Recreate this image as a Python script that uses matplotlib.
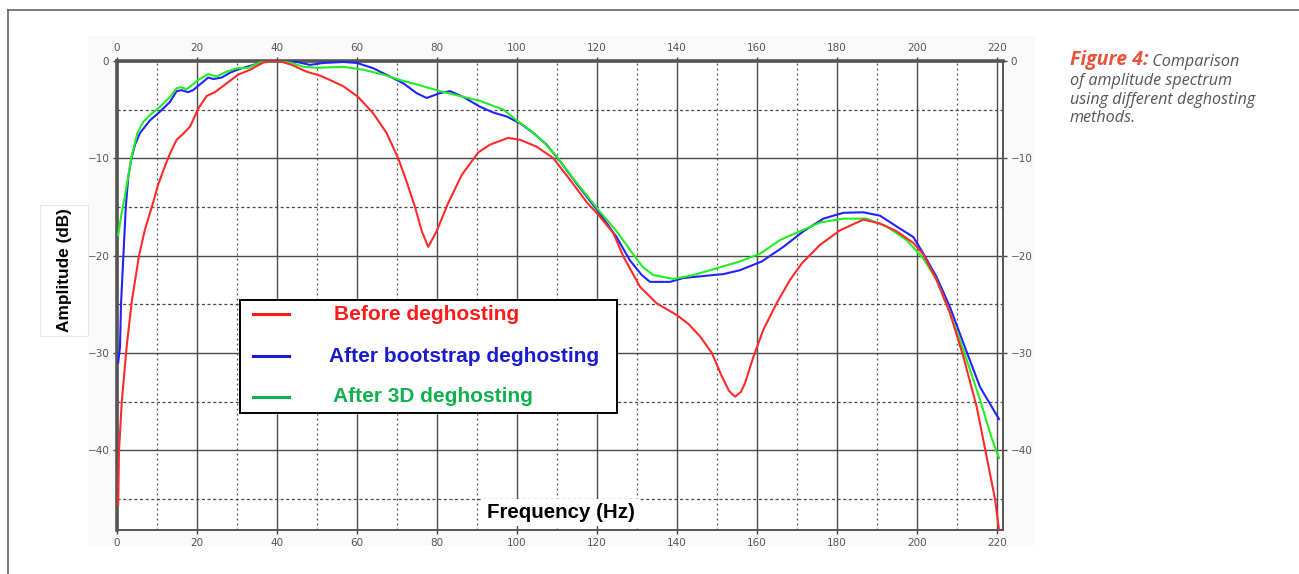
import matplotlib
matplotlib.use('Agg')
import matplotlib.pyplot as plt
from matplotlib.patches import Rectangle
from matplotlib.lines import Line2D
import numpy as np

# values (Hz, dB)
freq_before = [0.3, 0.5, 1.2, 2.4, 3.7, 5.5, 7, 8.7, 10.3, 11.8, 13.25, 14.9, 16.5, 18.25, 20.3, 22.4,
               24.5, 27.4, 30.3, 33.25, 36.6, 39, 41, 43.7, 47.4, 50.75, 53.5, 56.6, 60.3, 64.1, 67.4,
               70.3, 72.4, 74.5, 76.2, 77.8, 79.9, 82.8, 86.2, 90.3, 93.25, 97.8, 100.75, 104.9, 109.1,
               113.25, 117.4, 120.75, 124.1, 126.6, 130.75, 134.9, 139.9, 142.8, 145.75, 148.7, 151.2,
               153, 154.5, 156, 157, 159.1, 161.6, 164.9, 168.25, 171.2, 175.75, 180.75, 186.6, 190.75,
               194.9, 199.1, 201.6, 204.9, 208.25, 211.6, 214.9, 216.6, 217.8, 219.5, 220.5]
amp_before = [-45.6, -40, -35, -29.4, -24.7, -20, -17.3, -15, -12.7, -11, -9.5, -8.1, -7.5, -6.75, -4.9, -3.6,
              -3.2, -2.3, -1.4, -0.9, -0.15, 0, -0.05, -0.4, -1.1, -1.5, -2.0, -2.6, -3.7, -5.4, -7.4,
              -10, -12.4, -15, -17.5, -19.1, -17.5, -14.6, -11.7, -9.4, -8.6, -7.9, -8.1, -8.8, -10,
              -12.2, -14.5, -16.0, -17.7, -20.1, -23.2, -24.9, -26.1, -27, -28.3, -30, -32.4,
              -33.9, -34.5, -34.0, -33.1, -30.4, -27.6, -24.9, -22.5, -20.8, -18.9, -17.4, -16.3, -16.7,
              -17.5, -18.7, -19.9, -22.5, -25.9, -30.4, -35.5, -39.0, -41.5, -45, -48.2]

freq_boot = [0.3, 0.75, 1.0, 1.6, 2.2, 2.8, 3.5, 4.5, 5.75, 8.25, 10.75, 13.25, 14.9, 16.1, 17.8, 19,
             20.75, 22.8, 24.1, 26.2, 28.25, 30.75, 34.1, 37.4, 41.6, 45, 48.25, 51.6, 56.6, 60, 64.1,
             68.25, 71.6, 74.9, 77.4, 80.75, 83.25, 86.6, 90.75, 94.1, 97.4, 100.75, 104.1, 107.4,
             110.75, 114.9, 120.75, 124.9, 128.25, 131.2, 133.25, 138.25, 141.6, 146.6, 151.6, 155.75,
             161.2, 166.6, 171.6, 176.6, 181.6, 186.6, 190.75, 194.9, 199.1, 201.6, 204.9, 208.25,
             211.6, 215.75, 220.5]
amp_boot = [-31, -29.4, -25, -20, -15, -12, -10.2, -8.6, -7.4, -6.1, -5.2, -4.2, -3.1, -3.0, -3.2, -3.0,
            -2.4, -1.7, -1.85, -1.7, -1.2, -0.8, -0.4, 0, 0, -0.1, -0.4, -0.2, -0.1, -0.2, -0.75,
            -1.6, -2.3, -3.3, -3.8, -3.3, -3.1, -3.7, -4.7, -5.3, -5.7, -6.4, -7.4, -8.6,
            -10.3, -12.6, -15.7, -18.1, -20.5, -22, -22.7, -22.7, -22.3, -22.1, -21.9, -21.5,
            -20.6, -19.1, -17.5, -16.2, -15.6, -15.55, -15.9, -17.0, -18.1, -19.8, -22.2, -25.3,
            -29.0, -33.5, -36.8]

freq_3d = [0.3, 1, 2, 3.7, 5.1, 6.5, 8.25, 10.75, 13.25, 14.9, 16, 17.4, 20.3, 22.8, 24.9, 27.4, 29.9,
           32.75, 35.75, 40, 43.7, 46.6, 50, 56.6, 61.6, 66.6, 70.75, 75.75, 80.75, 85.75, 90.75, 96.6,
           99.9, 103.25, 106.6, 109.9, 114.1, 120.75, 124.9, 129.1, 131.5, 134.1, 139.1, 144.1, 149.1,
           155.75, 160.75, 165.75, 170.75, 175.75, 181.6, 187.4, 192.4, 197.4, 201.6, 204.9, 208.25,
           211.6, 215.75, 218.7, 220.5]
amp_3d = [-17.9, -16, -13.8, -9.7, -7.4, -6.3, -5.55, -4.7, -3.7, -2.8, -2.7, -2.9, -1.95, -1.35, -1.6, -1.1, -0.75,
          -0.7, -0.15, 0, -0.2, -0.6, -0.7, -0.6, -0.9, -1.4, -1.95, -2.5, -3.1, -3.6, -4.1, -5.0,
          -6.1, -7.1, -8.3, -9.8, -12.1, -15.5, -17.5, -19.9, -21.2, -22, -22.4, -22, -21.4,
          -20.6, -19.8, -18.4, -17.5, -16.6, -16.2, -16.2, -17, -18.4, -20.3, -22.5, -25.9,
          -29.7, -34.8, -38.8, -40.8]

labels = ['Before deghosting', 'After bootstrap deghosting', 'After 3D deghosting']
line_colors = ['#ff2a2a', '#2222ff', '#22ee22']
legend_colors = ['#ff1a1a', '#1a1ad0', '#10b050']

W, H = 1299, 574
fig = plt.figure(figsize=(W / 100, H / 100), dpi=100)

# page frame and faint image background
fig.add_artist(Line2D([8 / W, 8 / W], [0, 1 - 10 / H], color='#666666', lw=1.2))
fig.add_artist(Line2D([8 / W, 1], [1 - 10 / H, 1 - 10 / H], color='#666666', lw=1.2))
fig.add_artist(Rectangle((88 / W, 1 - 546 / H), (1035 - 88) / W, (546 - 36) / H,
                         facecolor='#fafafa', edgecolor='none', zorder=0))
fig.add_artist(Rectangle((40 / W, 1 - 336 / H), 48 / W, 131 / H,
                         facecolor='white', edgecolor='#e6e6e6', lw=0.8, zorder=0.5))

ax = fig.add_axes([117 / W, 1 - 530 / H, 886 / W, 469 / H])
ax.set_facecolor('white')

ax.plot(freq_boot, amp_boot, color=line_colors[1], lw=1.5, zorder=3)
ax.plot(freq_3d, amp_3d, color=line_colors[2], lw=1.5, zorder=3)
ax.plot(freq_before, amp_before, color=line_colors[0], lw=1.5, zorder=3)

ax.set_xlim(0, 221.5)
ax.set_ylim(-48.2, 0)
ax.set_xticks(np.arange(0, 221, 20))
ax.set_yticks(np.arange(-40, 1, 10))
ax.set_xticks(np.arange(10, 220, 20), minor=True)
ax.set_yticks(np.arange(-45, 0, 10), minor=True)
ax.grid(which='major', color='#4a4a4a', lw=1.0, ls='-')
ax.grid(which='minor', axis='y', color='#4a4a4a', lw=0.9, ls=(0, (2.5, 2)))
ax.grid(which='minor', axis='x', color='#4a4a4a', lw=0.9, ls=(0, (1.5, 2.5)))
ax.set_axisbelow(True)

ax.tick_params(which='major', top=True, right=True, labeltop=True, labelright=True,
               direction='out', length=3, width=1, color='#444444', pad=2.5,
               labelsize=7.5, labelcolor='#555555')
ax.tick_params(which='minor', length=0)

for side in ['top', 'left']:
    ax.spines[side].set_linewidth(2.6)
    ax.spines[side].set_color('#555555')
for side in ['bottom', 'right']:
    ax.spines[side].set_linewidth(1.4)
    ax.spines[side].set_color('#555555')

# legend box drawn by hand
ax.add_patch(Rectangle(((240 - 117) / 886, (530 - 413) / 469), 377 / 886, 113 / 469,
                       transform=ax.transAxes, facecolor='white', edgecolor='black',
                       lw=1.4, zorder=5))
row_y = [314, 356, 397]
text_x = [334, 329, 333]
for lab, c, ry, tx in zip(labels, legend_colors, row_y, text_x):
    yy = (530 - ry) / 469
    ax.add_line(Line2D([(253 - 117) / 886, (289 - 117) / 886], [yy, yy], color=c, lw=2.2,
                       transform=ax.transAxes, zorder=6))
    ax.text((tx - 117) / 886, yy, lab, transform=ax.transAxes, color=c, fontsize=15,
            fontweight='bold', family='Liberation Sans', va='center', ha='left', zorder=6)

ax.text(111, -46.4, 'Frequency (Hz)', fontsize=14.8, fontweight='bold', family='Liberation Sans',
        ha='center', va='center', zorder=4,
        bbox=dict(facecolor='white', edgecolor='none', pad=3))
fig.text(65 / W, 1 - 270 / H, 'Amplitude (dB)', rotation=90, fontsize=12.4, fontweight='bold',
         family='Liberation Sans', ha='center', va='center')

# caption
t1 = fig.text(1070 / W, 1 - 65.5 / H, 'Figure 4:', fontsize=14, fontweight='bold', style='italic',
              family='Open Sans', color='#e8553a', va='baseline', ha='left')
t2 = fig.text(0, 1 - 65.5 / H, ' Comparison', fontsize=11.6, style='italic', family='Open Sans',
              color='#555555', va='baseline', ha='left')
cap_lines = ['of amplitude spectrum', 'using different deghosting', 'methods.']
cap_base = [85, 104, 122]
for txt, yb in zip(cap_lines, cap_base):
    fig.text(1070 / W, 1 - yb / H, txt, fontsize=11.6, style='italic', family='Open Sans',
             color='#555555', va='baseline', ha='left')

# put "Comparison" right after the bold part
fig.canvas.draw()
bb = t1.get_window_extent()
t2.set_x(bb.x1 / W)

fig.savefig('out.png', dpi=100)
